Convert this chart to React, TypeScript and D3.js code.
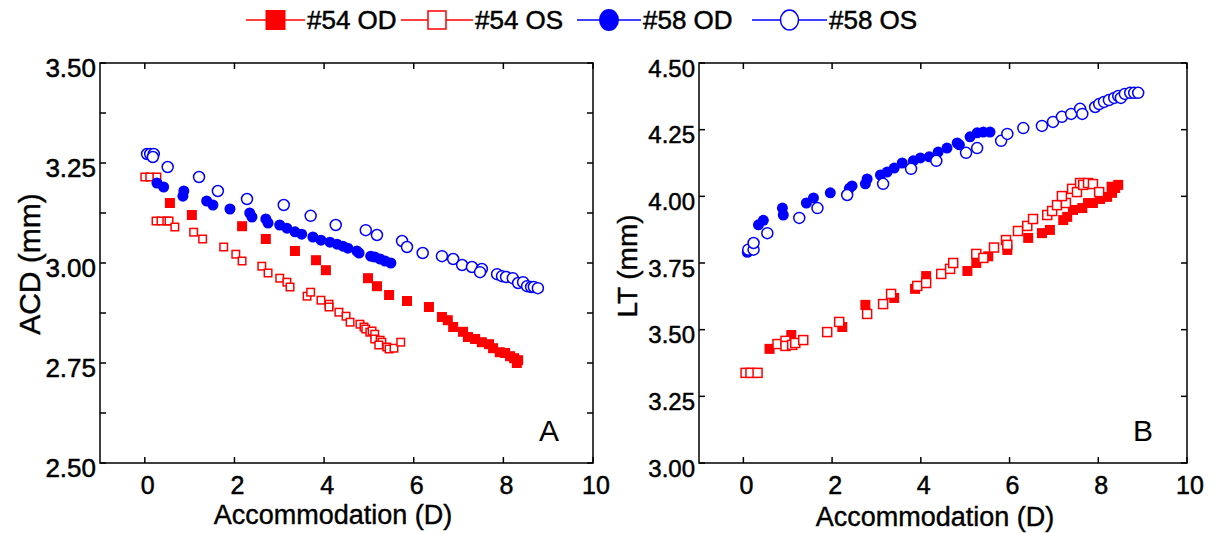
import React, { useEffect, useRef } from "react";
import * as d3 from "d3";

const FONT = "'Liberation Sans', Arial, Helvetica, sans-serif";
const RED = "#ff0000";
const BLUE = "#0000ff";

// panel A : ACD vs accommodation
const acd54OD = [
  [0.56, 3.15], [1.05, 3.12], [2.17, 3.092], [2.7, 3.06], [3.35, 3.03], [3.82, 3.007],
  [4.04, 2.982], [4.98, 2.962], [5.18, 2.942], [5.45, 2.92], [5.85, 2.905], [6.34, 2.89],
  [6.63, 2.865], [6.76, 2.857], [6.88, 2.84], [7.1, 2.828], [7.21, 2.815], [7.37, 2.81],
  [7.52, 2.802], [7.68, 2.797], [7.77, 2.787], [7.92, 2.777], [8.04, 2.775], [8.15, 2.767],
  [8.24, 2.762], [8.3, 2.75], [8.33, 2.757],
];
const acd54OS = [
  [0.0, 3.215], [0.11, 3.215], [0.27, 3.215], [0.25, 3.105], [0.36, 3.105], [0.49, 3.105],
  [0.54, 3.105], [0.67, 3.09], [1.09, 3.077], [1.29, 3.06], [1.76, 3.04], [2.03, 3.022],
  [2.17, 3.005], [2.61, 2.992], [2.75, 2.975], [3.01, 2.962], [3.17, 2.952], [3.24, 2.94],
  [3.62, 2.917], [3.7, 2.927], [3.93, 2.907], [4.11, 2.897], [4.11, 2.89], [4.33, 2.877],
  [4.49, 2.867], [4.58, 2.852], [4.8, 2.847], [4.89, 2.84], [4.93, 2.835], [5.02, 2.827],
  [5.07, 2.83], [5.13, 2.822], [5.13, 2.81], [5.25, 2.807], [5.29, 2.802], [5.22, 2.795],
  [5.4, 2.79], [5.45, 2.785], [5.56, 2.787], [5.71, 2.802],
];
const acd58OD = [
  [0.27, 3.2], [0.42, 3.19], [0.87, 3.18], [0.85, 3.167], [1.38, 3.155], [1.52, 3.145],
  [1.9, 3.135], [2.34, 3.125], [2.39, 3.115], [2.7, 3.11], [2.75, 3.1], [3.01, 3.095],
  [3.17, 3.087], [3.35, 3.078], [3.5, 3.072], [3.75, 3.065], [3.93, 3.057], [4.13, 3.052],
  [4.29, 3.047], [4.42, 3.042], [4.53, 3.037], [4.73, 3.03], [4.78, 3.025], [5.04, 3.017],
  [5.13, 3.015], [5.25, 3.01], [5.36, 3.005], [5.49, 3.0],
];
const acd58OS = [
  [0.05, 3.2725], [0.12, 3.2725], [0.2, 3.2725], [0.18, 3.265], [0.51, 3.24], [1.21, 3.215],
  [1.63, 3.18], [2.28, 3.16], [3.1, 3.145], [3.7, 3.118], [4.26, 3.095], [4.93, 3.082],
  [5.18, 3.07], [5.74, 3.055], [5.85, 3.04], [6.2, 3.025], [6.63, 3.017], [6.88, 3.01],
  [7.08, 2.995], [7.3, 2.99], [7.52, 2.985], [7.48, 2.977], [7.86, 2.972], [7.97, 2.967],
  [8.06, 2.965], [8.21, 2.962], [8.33, 2.95], [8.44, 2.952], [8.53, 2.942], [8.62, 2.94],
  [8.68, 2.94], [8.77, 2.937],
];

// panel B : LT vs accommodation
const lt54OD = [
  [0.59, 3.428], [1.08, 3.48], [2.23, 3.51], [2.75, 3.593], [3.4, 3.619], [3.87, 3.653],
  [4.12, 3.701], [5.05, 3.72], [5.25, 3.75], [5.52, 3.775], [5.95, 3.799], [6.42, 3.844],
  [6.73, 3.862], [6.91, 3.874], [7.21, 3.911], [7.3, 3.923], [7.43, 3.949], [7.64, 3.956],
  [7.77, 3.975], [7.88, 3.975], [8.04, 3.99], [8.2, 3.998], [8.31, 4.013], [8.38, 4.031],
  [8.45, 4.043], [8.3, 4.036],
];
const lt54OS = [
  [0.05, 3.338], [0.16, 3.338], [0.32, 3.338], [0.77, 3.446], [0.95, 3.458], [0.95, 3.439],
  [1.1, 3.443], [1.17, 3.45], [1.35, 3.461], [1.89, 3.491], [2.16, 3.529], [2.79, 3.559],
  [3.15, 3.596], [3.33, 3.634], [3.92, 3.664], [4.12, 3.675], [4.46, 3.709], [4.66, 3.728],
  [4.73, 3.75], [5.25, 3.784], [5.41, 3.769], [5.65, 3.808], [5.92, 3.836], [5.95, 3.818],
  [6.19, 3.87], [6.4, 3.889], [6.53, 3.915], [6.85, 3.93], [6.96, 3.945], [7.07, 3.967],
  [7.27, 3.975], [7.18, 4.001], [7.41, 4.028], [7.52, 4.016], [7.59, 4.05], [7.66, 4.043],
  [7.77, 4.05], [7.88, 4.046], [8.02, 4.016],
];
const lt58OD = [
  [0.09, 3.79], [0.34, 3.893], [0.45, 3.91], [0.88, 3.956], [0.9, 3.93], [1.42, 3.975],
  [1.58, 3.994], [1.96, 4.013], [2.39, 4.03], [2.45, 4.039], [2.75, 4.047], [2.79, 4.065],
  [3.09, 4.08], [3.24, 4.091], [3.4, 4.106], [3.58, 4.125], [3.83, 4.133], [3.99, 4.144],
  [4.19, 4.148], [4.39, 4.166], [4.59, 4.181], [4.82, 4.2], [4.87, 4.193], [5.11, 4.223],
  [5.27, 4.238], [5.41, 4.241], [5.56, 4.241],
];
const lt58OS = [
  [0.11, 3.8], [0.23, 3.8], [0.23, 3.825], [0.54, 3.862], [1.26, 3.919], [1.67, 3.956],
  [2.34, 4.005], [3.15, 4.047], [3.78, 4.103], [4.35, 4.133], [5.02, 4.163], [5.27, 4.181],
  [5.81, 4.208], [5.95, 4.234], [6.31, 4.256], [6.73, 4.264], [6.98, 4.279], [7.18, 4.298],
  [7.39, 4.309], [7.59, 4.328], [7.64, 4.309], [7.93, 4.335], [8.02, 4.346], [8.13, 4.354],
  [8.24, 4.361], [8.36, 4.369], [8.45, 4.376], [8.51, 4.369], [8.6, 4.384], [8.72, 4.388],
  [8.81, 4.388], [8.9, 4.388],
];

const xTicks = [0, 2, 4, 6, 8, 10];
const acdTicks = [2.5, 2.75, 3.0, 3.25, 3.5];
const ltTicks = [3.0, 3.25, 3.5, 3.75, 4.0, 4.25, 4.5];

const legendLabels = ["#54 OD", "#54 OS", "#58 OD", "#58 OS"];

const W = 1228;
const H = 533;

// marker kinds: fs = filled square, os = open square, fc = filled circle, oc = open circle
function drawMarkers(g, data, kind, x, y, size) {
  const color = kind === "fs" || kind === "os" ? RED : BLUE;
  const filled = kind === "fs" || kind === "fc";
  if (kind === "fs" || kind === "os") {
    g.append("g")
      .selectAll("rect")
      .data(data)
      .join("rect")
      .attr("x", (d) => x(d[0]) - size / 2)
      .attr("y", (d) => y(d[1]) - size / 2)
      .attr("width", size)
      .attr("height", size)
      .attr("fill", filled ? color : "#fff")
      .attr("stroke", filled ? "none" : color)
      .attr("stroke-width", 1.5);
  } else {
    g.append("g")
      .selectAll("circle")
      .data(data)
      .join("circle")
      .attr("cx", (d) => x(d[0]))
      .attr("cy", (d) => y(d[1]))
      .attr("r", size / 2)
      .attr("fill", filled ? color : "#fff")
      .attr("stroke", filled ? "none" : color)
      .attr("stroke-width", 1.5);
  }
}

function drawPanel(svg, p) {
  const x = d3.scaleLinear().domain([-1, 10]).range([p.left, p.right]);
  const y = d3.scaleLinear().domain(p.yDomain).range([p.bottom, p.top]);
  const g = svg.append("g");
  const tl = 6;

  // frame
  g.append("rect")
    .attr("x", p.left)
    .attr("y", p.top)
    .attr("width", p.right - p.left)
    .attr("height", p.bottom - p.top)
    .attr("fill", "none")
    .attr("stroke", "#000")
    .attr("stroke-width", 1.5);

  // ticks on all four sides, pointing inward
  const yTickVals = p.minor
    ? d3.range(p.yDomain[0], p.yDomain[1] + 0.001, 0.125)
    : p.yTicks;
  yTickVals.forEach((v) => {
    g.append("line").attr("x1", p.left).attr("x2", p.left + tl)
      .attr("y1", y(v)).attr("y2", y(v)).attr("stroke", "#000").attr("stroke-width", 1.5);
    g.append("line").attr("x1", p.right).attr("x2", p.right - tl)
      .attr("y1", y(v)).attr("y2", y(v)).attr("stroke", "#000").attr("stroke-width", 1.5);
  });
  xTicks.forEach((v) => {
    g.append("line").attr("x1", x(v)).attr("x2", x(v))
      .attr("y1", p.bottom).attr("y2", p.bottom - tl).attr("stroke", "#000").attr("stroke-width", 1.5);
    g.append("line").attr("x1", x(v)).attr("x2", x(v))
      .attr("y1", p.top).attr("y2", p.top + tl).attr("stroke", "#000").attr("stroke-width", 1.5);
  });

  // tick labels
  g.selectAll(".ylab")
    .data(p.yTicks)
    .join("text")
    .attr("x", p.left - 4)
    .attr("y", (d) => y(d) + p.yFont * 0.36 + 5)
    .attr("text-anchor", "end")
    .attr("font-size", p.yFont)
    .attr("font-family", FONT)
    .attr("stroke", "#000")
    .attr("stroke-width", 0.5)
    .text((d) => d3.format(".2f")(d));

  g.selectAll(".xlab")
    .data(xTicks)
    .join("text")
    .attr("x", (d) => x(d) + 3)
    .attr("y", p.bottom + 31)
    .attr("text-anchor", "middle")
    .attr("font-size", p.xFont)
    .attr("font-family", FONT)
    .attr("stroke", "#000")
    .attr("stroke-width", 0.5)
    .text((d) => d);

  // axis titles
  g.append("text")
    .attr("x", p.xTitleX)
    .attr("y", p.bottom + p.xTitleDy)
    .attr("text-anchor", "middle")
    .attr("font-size", p.xTitleFont)
    .attr("font-family", FONT)
    .attr("stroke", "#000")
    .attr("stroke-width", 0.4)
    .text("Accommodation (D)");

  g.append("text")
    .attr("transform", `translate(${p.yTitleX},${p.yTitleY}) rotate(-90)`)
    .attr("text-anchor", "middle")
    .attr("font-size", p.yTitleFont)
    .attr("font-family", FONT)
    .attr("stroke", "#000")
    .attr("stroke-width", 0.4)
    .text(p.yTitle);

  // panel letter
  g.append("text")
    .attr("x", p.right - 44)
    .attr("y", p.bottom - 22)
    .attr("text-anchor", "middle")
    .attr("font-size", 30)
    .attr("font-family", FONT)
    .text(p.letter);

  const plot = g.append("g");
  drawMarkers(plot, p.series[0], "fs", x, y, 10);
  drawMarkers(plot, p.series[1], "os", x, y, p.openSq);
  drawMarkers(plot, p.series[2], "fc", x, y, 11);
  drawMarkers(plot, p.series[3], "oc", x, y, 11);
}

function drawLegend(svg) {
  const items = [
    { kind: "fs", x0: 246, x1: 305 },
    { kind: "os", x0: 401, x1: 473 },
    { kind: "fc", x0: 577, x1: 641 },
    { kind: "oc", x0: 752, x1: 827 },
  ];
  const cy = 20;
  const g = svg.append("g");
  items.forEach((it, i) => {
    const color = it.kind === "fs" || it.kind === "os" ? RED : BLUE;
    const filled = it.kind === "fs" || it.kind === "fc";
    const cx = (it.x0 + it.x1) / 2;
    g.append("line").attr("x1", it.x0).attr("x2", it.x1).attr("y1", cy).attr("y2", cy)
      .attr("stroke", color).attr("stroke-width", 1.5);
    if (it.kind === "fs" || it.kind === "os") {
      const s = filled ? 20 : 18;
      g.append("rect").attr("x", cx - s / 2).attr("y", cy - s / 2).attr("width", s).attr("height", s)
        .attr("fill", filled ? color : "#fff").attr("stroke", filled ? "none" : color).attr("stroke-width", 1.5);
    } else {
      g.append("ellipse").attr("cx", cx).attr("cy", cy).attr("rx", filled ? 10 : 9).attr("ry", filled ? 11 : 10)
        .attr("fill", filled ? color : "#fff").attr("stroke", filled ? "none" : color).attr("stroke-width", 1.5);
    }
    g.append("text")
      .attr("x", it.x1 + 2)
      .attr("y", cy + 9)
      .attr("font-size", 26)
      .attr("font-family", FONT)
      .attr("stroke", "#000")
      .attr("stroke-width", 0.5)
      .text(legendLabels[i]);
  });
}

export default function App() {
  const svgRef = useRef(null);

  useEffect(() => {
    const svg = d3.select(svgRef.current);
    svg.selectAll("*").remove();

    drawPanel(svg, {
      left: 100, right: 593, top: 63, bottom: 463,
      yDomain: [2.5, 3.5], yTicks: acdTicks, minor: true,
      yFont: 26, xFont: 25, xTitleFont: 27, xTitleDy: 61, xTitleX: 333,
      yTitle: "ACD (mm)", yTitleX: 40, yTitleY: 264, yTitleFont: 30,
      letter: "A", openSq: 7.5,
      series: [acd54OD, acd54OS, acd58OD, acd58OS],
    });
    drawPanel(svg, {
      left: 699, right: 1187, top: 63, bottom: 463,
      yDomain: [3.0, 4.5], yTicks: ltTicks, minor: false,
      yFont: 24, xFont: 25, xTitleFont: 27, xTitleDy: 63, xTitleX: 935,
      yTitle: "LT (mm)", yTitleX: 637, yTitleY: 266, yTitleFont: 28,
      letter: "B", openSq: 9,
      series: [lt54OD, lt54OS, lt58OD, lt58OS],
    });
    drawLegend(svg);
  }, []);

  return (
    <svg
      ref={svgRef}
      width={W}
      height={H}
      style={{ position: "absolute", left: 0, top: 0, background: "#fff" }}
    />
  );
}
